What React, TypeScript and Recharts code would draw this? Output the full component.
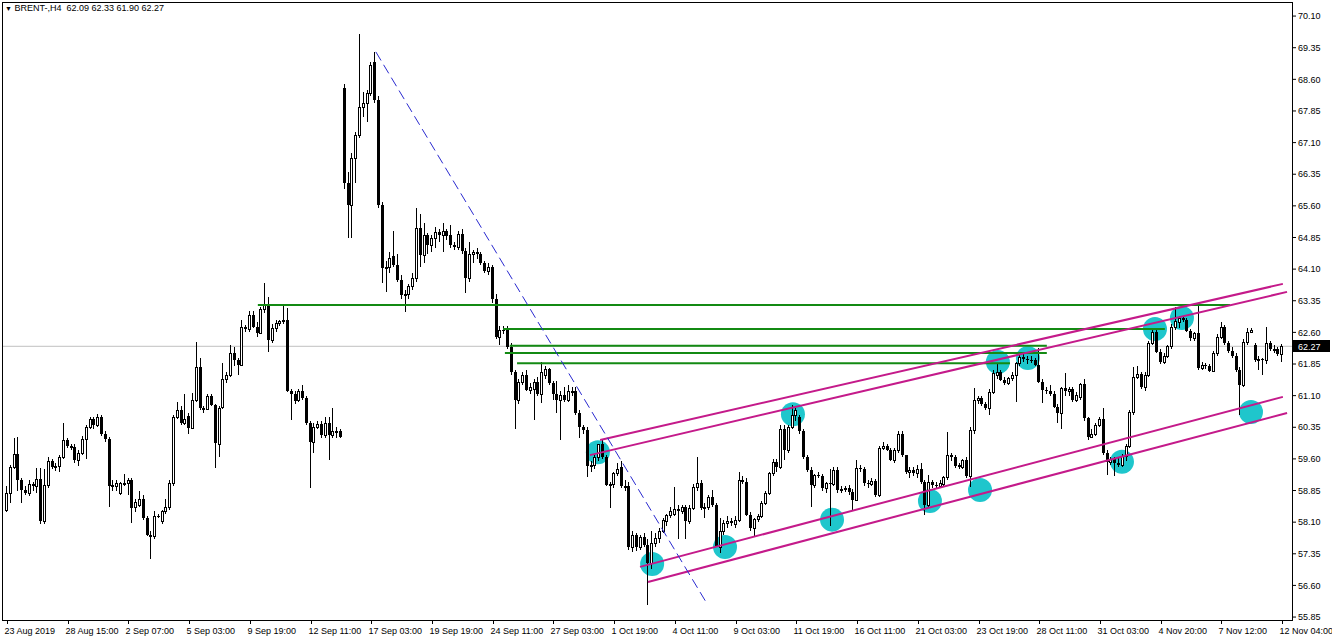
import {
    Bar,
    ComposedChart,
    ReferenceLine,
    Scatter,
    XAxis,
    YAxis,
} from "recharts";

// H4 candles as [open, high, low, close], oldest first
const lateAug = [
    [58.40, 58.95, 58.35, 58.78], [58.80, 59.45, 58.55, 59.40], [59.40, 60.10, 59.35, 59.72],
    [59.72, 60.12, 58.85, 59.10], [59.10, 59.15, 58.55, 58.87], [58.87, 58.95, 58.75, 58.80],
    [58.78, 59.10, 58.72, 59.00], [59.00, 59.05, 58.85, 58.95], [58.95, 59.38, 58.78, 59.12],
    [59.12, 59.38, 58.05, 58.12], [58.12, 59.35, 58.05, 58.97], [58.97, 59.65, 58.90, 59.55],
    [59.55, 59.60, 59.35, 59.40], [59.40, 59.50, 59.32, 59.42], [59.42, 59.70, 59.30, 59.65],
    [59.65, 60.45, 59.60, 60.05], [60.05, 60.10, 59.85, 59.90], [59.90, 59.95, 59.80, 59.85],
    [59.88, 59.95, 59.50, 59.58], [59.58, 59.80, 59.42, 59.75], [59.75, 60.15, 59.70, 60.08],
    [60.08, 60.40, 59.60, 60.35], [60.35, 60.60, 60.30, 60.55], [60.55, 60.60, 60.30, 60.40],
    [60.40, 60.66, 60.35, 60.60], [60.60, 60.65, 60.15, 60.20], [60.20, 60.25, 60.00, 60.08],
    [60.08, 60.12, 58.47, 58.95], [58.95, 59.10, 58.85, 58.98],
];

const earlySep = [
    [58.95, 59.10, 58.85, 59.04], [58.80, 59.05, 58.75, 59.02], [59.02, 59.25, 58.95, 59.03],
    [59.03, 59.15, 58.75, 59.10], [59.10, 59.15, 58.07, 58.43], [58.45, 58.65, 58.35, 58.58],
    [58.50, 58.85, 58.45, 58.65], [58.65, 58.75, 58.15, 58.20], [58.20, 58.25, 57.78, 57.80],
    [57.80, 57.90, 57.22, 57.75], [57.78, 58.37, 57.70, 58.25], [58.25, 58.30, 58.20, 58.22],
    [58.12, 58.40, 58.05, 58.37], [58.37, 58.64, 58.30, 58.45], [58.45, 59.10, 58.40, 59.04],
    [59.04, 60.65, 58.95, 60.60], [60.60, 60.96, 60.55, 60.76], [60.76, 60.85, 60.40, 60.45],
    [60.45, 61.15, 60.40, 60.55], [60.62, 60.70, 60.20, 60.33], [60.33, 61.17, 60.30, 61.00],
    [61.00, 62.38, 60.95, 61.78], [61.78, 61.99, 60.75, 60.80], [60.80, 60.85, 60.70, 60.77],
    [60.78, 61.15, 60.75, 61.10], [61.10, 61.15, 60.85, 60.88], [60.88, 60.90, 59.38, 59.98],
    [59.95, 60.85, 59.65, 60.80], [60.82, 61.87, 60.78, 61.50], [61.50, 61.65, 61.40, 61.58],
    [61.60, 62.30, 61.55, 62.12], [62.12, 62.25, 61.80, 61.95],
];

const midSep = [
    [61.95, 62.00, 61.58, 61.83], [61.83, 62.90, 61.80, 62.72], [62.72, 62.78, 62.60, 62.68],
    [62.68, 63.10, 62.60, 63.02], [63.02, 63.10, 62.70, 62.73], [62.73, 62.85, 62.50, 62.58],
    [62.58, 63.20, 62.55, 63.15], [63.15, 63.76, 63.05, 63.28], [63.28, 63.45, 62.14, 62.42],
    [62.42, 62.80, 62.35, 62.70], [62.70, 62.90, 62.60, 62.83], [62.83, 62.90, 62.75, 62.86],
    [62.86, 63.22, 62.80, 62.90], [62.90, 63.17, 61.18, 61.20], [61.20, 61.25, 60.52, 61.14],
    [61.14, 61.20, 60.90, 60.98], [61.00, 61.25, 60.95, 61.20], [61.20, 61.35, 61.00, 61.04],
    [61.04, 61.10, 60.40, 60.45], [60.45, 60.50, 58.90, 60.00], [60.00, 60.45, 59.74, 60.36],
    [60.36, 60.50, 60.30, 60.43], [60.43, 60.50, 60.10, 60.17], [60.17, 60.60, 60.10, 60.44],
    [60.44, 60.60, 59.57, 60.17], [60.17, 60.80, 60.10, 60.25], [60.25, 60.35, 60.10, 60.22],
    [60.25, 60.30, 60.10, 60.13],
];

const spikeWeek = [
    [68.40, 68.50, 66.00, 66.15], [66.15, 66.40, 64.83, 65.62], [65.62, 66.85, 64.83, 66.73],
    [66.73, 67.35, 66.15, 67.28], [67.28, 69.67, 67.20, 67.95], [67.95, 68.30, 67.70, 68.03],
    [68.03, 68.35, 67.60, 68.27], [68.27, 69.00, 68.20, 68.94], [69.00, 69.25, 68.05, 68.11],
    [68.10, 68.20, 65.55, 65.62], [65.62, 65.70, 63.76, 64.12], [64.12, 64.30, 63.56, 64.16],
    [64.16, 64.50, 64.00, 64.36], [64.40, 65.00, 64.15, 64.20], [64.20, 64.45, 63.80, 63.84],
    [63.84, 63.95, 63.40, 63.49], [63.49, 63.60, 63.09, 63.50], [63.50, 63.75, 63.40, 63.70],
    [63.70, 64.00, 63.60, 63.88], [63.88, 65.54, 63.80, 65.07], [65.07, 65.40, 64.15, 64.43],
    [64.43, 65.20, 64.25, 64.90], [64.90, 64.95, 64.45, 64.67], [64.67, 64.90, 64.50, 64.83],
    [64.83, 65.10, 64.60, 64.99], [64.99, 65.05, 64.75, 64.92], [64.92, 65.20, 64.50, 65.00],
    [65.00, 65.05, 64.80, 64.88],
];

const lateSep = [
    [64.90, 65.15, 64.60, 64.67], [64.67, 64.75, 64.55, 64.63], [64.63, 65.00, 64.55, 64.93],
    [64.93, 65.05, 64.45, 64.52], [64.52, 64.60, 63.53, 63.88], [63.88, 64.75, 63.80, 64.47],
    [64.47, 64.55, 64.25, 64.50], [64.50, 64.60, 64.35, 64.45], [64.45, 64.50, 64.20, 64.25],
    [64.25, 64.30, 64.00, 64.05], [64.05, 64.25, 63.95, 64.15], [64.15, 64.20, 63.30, 63.40],
    [63.40, 63.50, 62.45, 62.50], [62.50, 62.75, 62.30, 62.66], [62.66, 62.75, 62.55, 62.65],
    [62.65, 62.75, 62.20, 62.26], [62.26, 62.35, 61.60, 61.67], [61.67, 61.70, 60.32, 61.00],
    [61.00, 61.50, 60.90, 61.43], [61.43, 61.65, 61.35, 61.58], [61.58, 61.70, 61.20, 61.23],
    [61.23, 61.40, 61.15, 61.30], [61.25, 61.50, 60.52, 61.43], [61.43, 61.55, 61.10, 61.15],
    [61.15, 61.90, 60.92, 61.67], [61.60, 61.80, 61.50, 61.72], [61.72, 61.75, 61.35, 61.40],
    [61.40, 61.45, 61.00, 61.15], [61.15, 61.45, 60.68, 61.00], [61.00, 61.20, 60.05, 61.12],
];

const earlyOct = [
    [61.12, 61.30, 60.95, 61.00], [61.00, 61.35, 60.95, 61.20], [61.20, 61.30, 61.10, 61.20],
    [61.20, 61.30, 60.65, 60.68], [60.68, 60.75, 60.10, 60.36], [60.36, 60.40, 60.20, 60.28],
    [60.28, 60.35, 59.18, 59.42], [59.42, 59.55, 59.30, 59.45], [59.45, 59.70, 59.35, 59.65],
    [59.65, 59.95, 59.55, 59.95], [59.95, 60.05, 59.60, 59.65], [59.65, 59.70, 58.95, 58.98],
    [58.98, 59.05, 58.43, 59.00], [59.00, 59.30, 58.90, 59.26], [59.26, 59.50, 59.20, 59.35],
    [59.40, 59.55, 58.90, 58.95], [58.95, 59.10, 58.85, 58.90], [58.95, 59.05, 57.45, 57.50],
    [57.50, 57.90, 57.40, 57.80], [57.80, 57.85, 57.42, 57.50], [57.50, 57.80, 57.45, 57.75],
    [57.75, 57.85, 57.50, 57.55], [57.55, 57.70, 56.14, 57.12], [57.12, 57.90, 57.00, 57.60],
    [57.60, 57.85, 57.50, 57.72], [57.72, 57.95, 57.60, 57.90], [57.90, 58.20, 57.85, 58.15],
    [58.12, 58.30, 58.00, 58.27], [58.27, 58.45, 58.20, 58.36], [58.30, 58.94, 58.25, 58.42],
];

const midOct = [
    [58.42, 58.50, 57.70, 58.36], [58.36, 58.50, 58.30, 58.47], [58.47, 58.50, 57.70, 58.12],
    [58.12, 58.50, 58.05, 58.43], [58.43, 59.00, 58.40, 58.94], [58.94, 59.65, 58.85, 59.04],
    [59.04, 59.10, 58.40, 58.43], [58.43, 58.55, 58.20, 58.47], [58.47, 58.75, 58.40, 58.70],
    [58.70, 58.86, 58.45, 58.50], [58.50, 58.55, 57.50, 57.52], [57.52, 58.20, 57.36, 57.90],
    [57.90, 58.15, 57.80, 58.07], [58.07, 58.25, 57.95, 58.12], [58.12, 58.20, 58.00, 58.08],
    [58.05, 58.25, 57.95, 58.15], [58.15, 59.30, 58.10, 59.10], [59.10, 59.20, 59.00, 59.05],
    [59.05, 59.15, 58.25, 58.27], [58.27, 58.35, 57.90, 57.95], [57.95, 58.20, 57.76, 58.18],
    [58.18, 58.30, 58.10, 58.25], [58.25, 58.60, 58.20, 58.55], [58.55, 58.85, 58.50, 58.79],
    [58.79, 59.30, 58.75, 59.26], [59.26, 59.60, 59.20, 59.53], [59.53, 59.60, 59.30, 59.40],
    [59.40, 60.40, 59.35, 60.32], [60.32, 60.40, 59.57, 59.81], [59.81, 60.40, 59.75, 60.36],
    [60.36, 60.88, 60.30, 60.64], [60.64, 60.80, 60.50, 60.75], [60.60, 60.65, 60.20, 60.25],
];

const lateOct = [
    [60.25, 60.30, 59.60, 59.65], [59.65, 59.70, 59.30, 59.34], [59.34, 59.40, 58.47, 58.98],
    [58.98, 59.25, 58.90, 59.22], [59.22, 59.30, 59.15, 59.20], [59.20, 59.25, 58.85, 58.90],
    [58.90, 59.05, 58.80, 59.02], [59.02, 59.35, 58.00, 59.00], [59.00, 59.40, 58.95, 59.34],
    [59.34, 59.40, 58.80, 58.86], [58.86, 58.95, 58.80, 58.88], [58.88, 58.95, 58.82, 58.90],
    [58.90, 58.98, 58.75, 58.82], [58.82, 58.88, 58.40, 58.63], [58.63, 59.57, 58.60, 59.38],
    [59.38, 59.45, 59.30, 59.37], [59.37, 59.40, 58.95, 59.02], [59.02, 59.10, 58.90, 59.00],
    [59.00, 59.15, 58.95, 59.08], [59.08, 59.12, 58.70, 58.75], [58.75, 59.90, 58.70, 59.85],
    [59.85, 60.00, 59.80, 59.90], [59.90, 59.95, 59.78, 59.82], [59.82, 59.85, 59.55, 59.57],
    [59.57, 59.85, 59.50, 59.81], [59.81, 60.25, 59.75, 60.20], [60.20, 60.25, 59.65, 59.69],
    [59.69, 59.70, 59.25, 59.30], [59.30, 59.40, 59.15, 59.33], [59.33, 59.40, 59.20, 59.27],
];

const octEnd = [
    [59.27, 59.45, 59.15, 59.35], [59.35, 59.50, 59.00, 59.06], [59.06, 59.10, 58.27, 58.50],
    [58.50, 59.22, 58.45, 59.05], [59.05, 59.10, 58.90, 58.98], [58.98, 59.05, 58.88, 58.95],
    [58.95, 59.10, 58.90, 59.02], [59.00, 59.20, 58.95, 59.18], [59.18, 60.24, 59.10, 59.69],
    [59.69, 59.75, 59.55, 59.65], [59.65, 59.70, 59.38, 59.42], [59.42, 59.50, 59.35, 59.45],
    [59.40, 59.60, 59.35, 59.57], [59.57, 59.65, 59.15, 59.20], [59.20, 60.35, 58.94, 60.28],
    [60.28, 61.27, 60.20, 61.00], [61.00, 61.10, 60.90, 61.04], [61.04, 61.10, 60.85, 60.90],
    [60.90, 60.95, 60.75, 60.80], [60.80, 61.25, 60.64, 61.19], [61.19, 61.70, 61.15, 61.63],
    [61.60, 61.87, 61.50, 61.65], [61.65, 61.70, 61.45, 61.48], [61.48, 61.55, 61.35, 61.40],
    [61.40, 61.55, 61.35, 61.51], [61.51, 61.65, 61.45, 61.60], [61.60, 61.90, 60.96, 61.87],
    [61.87, 62.10, 61.80, 62.02], [62.02, 62.10, 61.90, 61.98], [61.98, 62.05, 61.85, 61.95],
    [61.95, 62.05, 61.88, 61.94],
];

const earlyNov = [
    [61.94, 62.00, 61.80, 61.83], [61.83, 62.22, 61.40, 61.43], [61.43, 61.50, 60.92, 61.23],
    [61.23, 61.30, 61.15, 61.22], [61.22, 61.35, 61.10, 61.15], [61.15, 61.20, 60.80, 60.84],
    [60.84, 60.90, 60.44, 60.68], [60.68, 61.30, 60.32, 61.27], [61.27, 61.63, 61.10, 61.20],
    [61.20, 61.30, 61.10, 61.25], [61.25, 61.30, 60.95, 61.00], [61.00, 61.18, 60.95, 61.12],
    [61.07, 61.40, 61.00, 61.38], [61.38, 61.50, 60.50, 60.56], [60.56, 60.60, 60.05, 60.13],
    [60.13, 60.30, 60.10, 60.20], [60.20, 60.45, 60.15, 60.40], [60.40, 60.60, 60.35, 60.55],
    [60.55, 60.80, 59.70, 59.73], [59.73, 59.80, 59.22, 59.53], [59.53, 59.65, 59.45, 59.60],
    [59.60, 59.65, 59.20, 59.50], [59.50, 59.62, 59.40, 59.45], [59.45, 59.72, 59.40, 59.68],
    [59.68, 59.95, 59.55, 59.90], [59.90, 60.75, 59.85, 60.72], [60.72, 61.79, 60.65, 61.55],
    [61.55, 61.80, 61.50, 61.62], [61.62, 61.65, 61.25, 61.30],
];

const midNov = [
    [61.30, 61.65, 61.22, 61.60], [61.60, 62.40, 61.55, 62.34], [62.34, 62.65, 62.30, 62.60],
    [62.60, 62.68, 62.10, 62.14], [62.14, 62.20, 61.85, 61.90], [61.90, 62.10, 61.85, 62.05],
    [62.05, 62.30, 62.00, 62.28], [62.28, 62.80, 62.20, 62.72], [62.72, 63.21, 62.65, 62.88],
    [62.85, 63.00, 62.70, 62.95], [62.95, 63.00, 62.85, 62.90], [62.90, 62.95, 62.60, 62.63],
    [62.63, 62.68, 62.40, 62.46], [62.46, 62.60, 62.40, 62.58], [62.58, 63.25, 61.70, 61.75],
    [61.75, 61.90, 61.70, 61.82], [61.82, 61.88, 61.72, 61.80], [61.80, 61.85, 61.65, 61.68],
    [61.68, 62.15, 61.65, 62.10], [62.10, 62.55, 62.05, 62.50], [62.50, 62.85, 62.45, 62.72],
    [62.72, 62.78, 62.30, 62.35], [62.35, 62.40, 62.10, 62.15], [62.15, 62.25, 62.00, 62.05],
    [62.05, 62.12, 61.65, 61.71], [61.71, 61.78, 60.64, 61.35], [61.35, 62.45, 61.30, 62.38],
    [62.38, 62.70, 62.30, 62.62], [62.62, 62.70, 62.58, 62.65], [62.30, 62.35, 61.90, 61.95],
    [61.95, 62.05, 61.70, 61.98], [61.98, 62.00, 61.60, 61.94], [61.94, 62.73, 61.85, 62.34],
    [62.34, 62.40, 62.15, 62.20], [62.20, 62.30, 62.10, 62.20], [62.20, 62.25, 62.05, 62.09],
    [62.09, 62.33, 61.90, 62.27],
];

// one label every 16 bars
const timeLabels = [
    "23 Aug 2019", "28 Aug 15:00", "2 Sep 07:00", "5 Sep 03:00", "9 Sep 19:00",
    "12 Sep 11:00", "17 Sep 03:00", "19 Sep 19:00", "24 Sep 11:00", "27 Sep 03:00",
    "1 Oct 19:00", "4 Oct 11:00", "9 Oct 03:00", "11 Oct 19:00", "16 Oct 11:00",
    "21 Oct 03:00", "23 Oct 19:00", "28 Oct 11:00", "31 Oct 03:00", "4 Nov 20:00",
    "7 Nov 12:00", "12 Nov 04:00",
];

const priceTicks = [
    70.10, 69.35, 68.60, 67.85, 67.10, 66.35, 65.60, 64.85, 64.10, 63.35,
    62.60, 61.85, 61.10, 60.35, 59.60, 58.85, 58.10, 57.35, 56.60, 55.85,
];

const lastPrice = 62.27;
const header = "BRENT-,H4  62.09 62.33 61.90 62.27";

// drawn objects, x in bar index, y in price
const blueTrend = [
    { x: 97.2, y: 69.25 },
    { x: 184.5, y: 56.16 },
];

const channelLines = [
    [{ x: 156.3, y: 60.05 }, { x: 336.2, y: 63.75 }],
    [{ x: 153.6, y: 59.69 }, { x: 337.3, y: 63.56 }],
    [{ x: 166.8, y: 57.04 }, { x: 336.2, y: 61.07 }],
    [{ x: 168.9, y: 56.68 }, { x: 337.3, y: 60.69 }],
];

const levelPrices = [63.25, 62.68, 62.28, 62.11, 61.87];
const levelStarts = [66.1, 130.7, 132.5, 131.2, 134.4];
const levelEnds = [322.3, 305.1, 274.0, 274.0, 264.3];

const touchBars = [155.7, 170.0, 189.2, 207.1, 217.4, 243.2, 256.4, 261.1, 269.0, 293.8, 302.5, 309.6, 327.8];
const touchPrices = [59.76, 57.11, 57.51, 60.66, 58.16, 58.60, 58.86, 61.90, 61.99, 59.53, 62.68, 62.94, 60.71];

const candles = [
    ...lateAug, ...earlySep, ...midSep, ...spikeWeek, ...lateSep, ...earlyOct,
    ...midOct, ...lateOct, ...octEnd, ...earlyNov, ...midNov,
].map(([o, h, l, c], i) => ({ i, o, h, l, c }));

const touches = touchBars.map((i, k) => ({ i, p: touchPrices[k] }));
const tickIdx = timeLabels.map((_, k) => k * 16);

// layout
const WIDTH = 1332;
const HEIGHT = 640;
const PLOT_LEFT = 2;
const PLOT_RIGHT = 1292;
const STEP = 3.795;
const FIRST_BAR_X = 7;
const PLOT_W = PLOT_RIGHT - PLOT_LEFT;
const PAD_L = FIRST_BAR_X - PLOT_LEFT - STEP / 2;
const PAD_R = PLOT_W - PAD_L - STEP * candles.length;
const X_MIN = -(PAD_L / STEP + 0.5);
const X_MAX = X_MIN + PLOT_W / STEP;

const FONT = "'Liberation Sans', Arial, sans-serif";

function Candle(props: any) {
    const { x, y, height, payload } = props;
    const { o, h, l, c } = payload;
    const py = (v: number) => y + ((h - v) / (h - l || 1)) * height;
    const left = Math.round(x);
    const top = Math.round(py(Math.max(o, c)));
    const bottom = Math.round(py(Math.min(o, c)));
    const bodyH = Math.max(bottom - top, 1);

    return (
        <g>
            <line
                x1={left + 1.5}
                x2={left + 1.5}
                y1={Math.round(y)}
                y2={Math.round(y + height)}
                stroke="#000"
                strokeWidth={1}
            />
            {c >= o ? (
                <rect
                    x={left + 0.5}
                    y={top + 0.5}
                    width={2}
                    height={bodyH}
                    fill="#fff"
                    stroke="#000"
                    strokeWidth={1}
                />
            ) : (
                <rect x={left} y={top} width={3} height={bodyH} fill="#000" />
            )}
        </g>
    );
}

function TimeTick(props: any) {
    const { x, payload } = props;
    const label = timeLabels[tickIdx.indexOf(payload.value)];
    const px = Math.round(x) + 0.5;
    return (
        <g>
            <line x1={px} x2={px} y1={620} y2={624} stroke="#000" />
            <text
                x={px - 3}
                y={634}
                fontSize={9}
                fontFamily={FONT}
                fill="#000"
                textAnchor="start"
            >
                {label}
            </text>
        </g>
    );
}

function PriceTag(props: any) {
    const { viewBox } = props;
    const x = viewBox.x + viewBox.width + 1;
    const y = Math.round(viewBox.y);
    return (
        <g>
            <rect x={x} y={y - 6} width={37} height={12} fill="#000" />
            <text
                x={x + 5}
                y={y + 3.5}
                fontSize={9}
                fontFamily={FONT}
                fill="#fff"
            >
                {lastPrice.toFixed(2)}
            </text>
        </g>
    );
}

export default function App() {
    return (
        <div
            style={{
                position: "fixed",
                left: 0,
                top: 0,
                width: WIDTH,
                height: HEIGHT,
                background: "#fff",
                overflow: "hidden",
            }}
        >
            <ComposedChart
                width={WIDTH}
                height={HEIGHT}
                data={candles}
                margin={{ top: 3, right: 0, bottom: 0, left: PLOT_LEFT }}
                barGap={0}
            >
                <XAxis
                    xAxisId="cat"
                    dataKey="i"
                    type="category"
                    hide
                    padding={{ left: PAD_L, right: PAD_R }}
                />
                <XAxis
                    xAxisId="num"
                    dataKey="i"
                    type="number"
                    domain={[X_MIN, X_MAX]}
                    allowDataOverflow
                    ticks={tickIdx}
                    interval={0}
                    height={20}
                    axisLine={false}
                    tickLine={false}
                    tick={(p: any) => <TimeTick {...p} />}
                />
                <YAxis
                    orientation="right"
                    width={40}
                    domain={[55.78, 70.41]}
                    allowDataOverflow
                    ticks={priceTicks}
                    interval={0}
                    axisLine={false}
                    tickLine={{ stroke: "#000" }}
                    tickSize={4}
                    tickMargin={2}
                    tickFormatter={(v: number) => v.toFixed(2)}
                    tick={{ fill: "#000", fontSize: 9, fontFamily: FONT }}
                />

                <ReferenceLine
                    xAxisId="num"
                    y={lastPrice}
                    stroke="#c0c0c0"
                    strokeWidth={1}
                    zIndex={50}
                    label={<PriceTag />}
                />

                <Scatter
                    xAxisId="num"
                    data={touches}
                    dataKey="p"
                    isAnimationActive={false}
                    zIndex={100}
                    shape={(p: any) => (
                        <circle cx={p.cx} cy={p.cy} r={12} fill="#1fc6cc" />
                    )}
                />

                <Bar
                    xAxisId="cat"
                    dataKey={(d: any) => [d.l, d.h]}
                    barSize={3}
                    isAnimationActive={false}
                    shape={(p: any) => <Candle {...p} />}
                />

                {levelPrices.map((price, k) => (
                    <ReferenceLine
                        key={`lvl-${k}`}
                        xAxisId="num"
                        segment={[
                            { x: levelStarts[k], y: price },
                            { x: levelEnds[k], y: price },
                        ]}
                        stroke="#138a13"
                        strokeWidth={2}
                        ifOverflow="visible"
                        zIndex={700}
                    />
                ))}

                {channelLines.map((seg, k) => (
                    <ReferenceLine
                        key={`ch-${k}`}
                        xAxisId="num"
                        segment={seg}
                        stroke="#c41a8a"
                        strokeWidth={2}
                        ifOverflow="visible"
                        zIndex={700}
                    />
                ))}

                <ReferenceLine
                    xAxisId="num"
                    segment={blueTrend}
                    stroke="#2a2ad0"
                    strokeWidth={1}
                    strokeDasharray="10 5"
                    ifOverflow="visible"
                    zIndex={700}
                />
            </ComposedChart>

            <div
                style={{
                    position: "absolute",
                    left: 2,
                    top: 2,
                    width: 1291,
                    height: 619,
                    border: "1px solid #000",
                    boxSizing: "border-box",
                    pointerEvents: "none",
                }}
            />

            <div
                style={{
                    position: "absolute",
                    left: 5,
                    top: 3,
                    fontFamily: FONT,
                    fontSize: 9,
                    color: "#000",
                    whiteSpace: "pre",
                    lineHeight: "11px",
                }}
            >
                <span style={{ fontSize: 7 }}>▼</span> {header}
            </div>
        </div>
    );
}
